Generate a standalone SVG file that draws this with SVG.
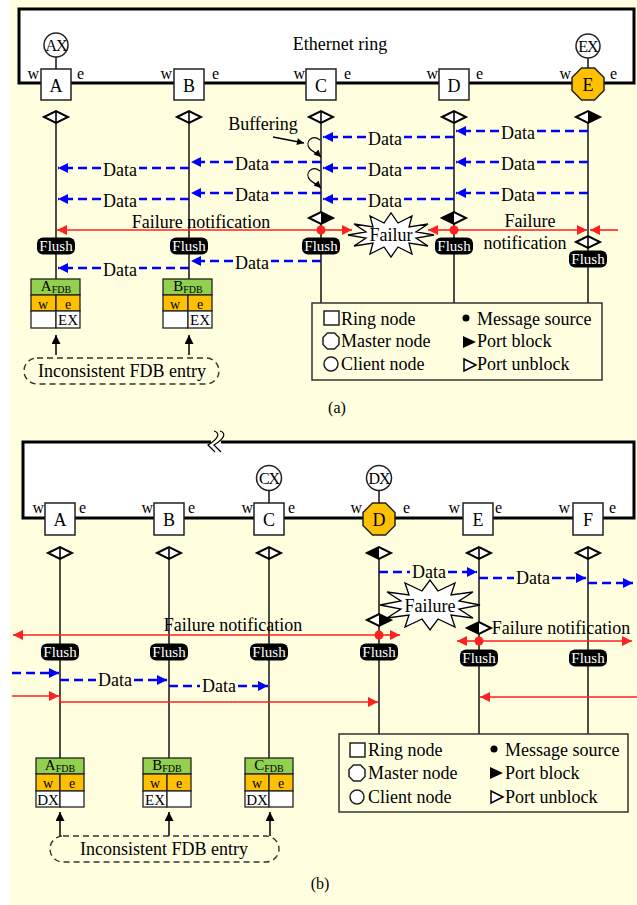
<svg xmlns="http://www.w3.org/2000/svg" width="637" height="905" viewBox="0 0 637 905">
<style>
text{font-family:"Liberation Serif","Times New Roman",serif;fill:#000}
.big{font-size:18px}
.we{font-size:16px}
.lbl{font-size:18px;text-anchor:middle}
.mid{text-anchor:middle}
.ring{fill:#fff;stroke:#000;stroke-width:3}
.sq{fill:#fff;stroke:#222;stroke-width:1.5}
.oct{fill:#FFC000;stroke:#222;stroke-width:1.5}
.cl{fill:#fff;stroke:#222;stroke-width:1.5}
.life{stroke:#222;stroke-width:1.6;fill:none}
.data{stroke:#0000FF;stroke-width:2.4;stroke-dasharray:9 5;fill:none;marker-end:url(#ab)}
.red{stroke:#FF2020;stroke-width:1.6;fill:none;marker-end:url(#ar)}
.redl{stroke:#FF2020;stroke-width:1.6;fill:none}
.dot{fill:#FF2020}
.flushbg{fill:#000}
.flush{font-family:"Liberation Serif","Times New Roman",serif;font-size:15px;fill:#fff;text-anchor:middle}
.star{fill:#fff;stroke:#000;stroke-width:1.3}
.hdr{fill:#92D050;stroke:#222;stroke-width:1.3}
.org{fill:#FFC000;stroke:#222;stroke-width:1.3}
.wht{fill:#fff;stroke:#222;stroke-width:1.3}
.cell{font-size:14px;text-anchor:middle}
.dash{fill:none;stroke:#333;stroke-width:1.4;stroke-dasharray:6 4}
.up{stroke:#000;stroke-width:1.5;marker-end:url(#ak)}
.leg{fill:#FFFFE0;stroke:#333;stroke-width:1.5}
</style>
<defs>
<marker id="ab" viewBox="0 0 10 10" refX="10" refY="5" markerWidth="12" markerHeight="10" markerUnits="userSpaceOnUse" orient="auto"><path d="M0,0 L10,5 L0,10 Z" fill="#0000FF"/></marker>
<marker id="ar" viewBox="0 0 10 10" refX="10" refY="5" markerWidth="13" markerHeight="10" markerUnits="userSpaceOnUse" orient="auto"><path d="M0,0 L10,5 L0,10 Z" fill="#FF2020"/></marker>
<marker id="ak" viewBox="0 0 10 10" refX="10" refY="5" markerWidth="12" markerHeight="9" markerUnits="userSpaceOnUse" orient="auto"><path d="M0,0 L10,5 L0,10 Z" fill="#000"/></marker>
<marker id="as" viewBox="0 0 10 10" refX="10" refY="5" markerWidth="8" markerHeight="7" markerUnits="userSpaceOnUse" orient="auto"><path d="M0,0 L10,5 L0,10 Z" fill="#000"/></marker>
<g id="dmo"><path d="M-12,0 L0,-6 L12,0 L0,6 Z" fill="#fff" stroke="#000" stroke-width="2"/><path d="M0,-6 V6" stroke="#000" stroke-width="1.6"/></g>
<g id="dmr"><path d="M-12,0 L0,-6 L12,0 L0,6 Z" fill="#fff" stroke="#000" stroke-width="2"/><path d="M0,-6 L12,0 L0,6 Z" fill="#000"/></g>
<g id="dml"><path d="M-12,0 L0,-6 L12,0 L0,6 Z" fill="#fff" stroke="#000" stroke-width="2"/><path d="M0,-6 L-12,0 L0,6 Z" fill="#000"/></g>
<g id="flush"><rect x="-19" y="-8.5" width="38" height="17" rx="6" class="flushbg"/><text x="0" y="5" class="flush">Flush</text></g>
<path id="octs" d="M-6.5,-16 L6.5,-16 L16,-6.5 L16,6.5 L6.5,16 L-6.5,16 L-16,6.5 L-16,-6.5 Z"/>
</defs>

<rect x="0" y="0" width="637" height="905" fill="#fff"/>
<rect x="10" y="0" width="627" height="905" fill="#FFFFE0"/>

<!-- ================= PANEL (a) ================= -->
<g id="a-ring">
<rect x="19" y="9" width="615" height="74" class="ring"/>
<text x="340" y="50" class="lbl">Ethernet ring</text>
</g>

<g id="a-connectors">
<path class="life" d="M56,111 V279 M189,111 V279 M321,111 V303 M454,111 V303 M588,111 V303"/>
<path class="life" d="M56,57 V69 M588,58 V68"/>
<path class="data" d="M588,131 H537 M499,131 H456"/>
<path class="data" d="M454,137 H404 M366,137 H323"/>
<path class="data" d="M588,162 H537 M499,162 H456"/>
<path class="data" d="M454,168 H404 M366,168 H323"/>
<path class="data" d="M321,162 H271 M233,162 H191"/>
<path class="data" d="M189,168 H139 M101,168 H58"/>
<path class="data" d="M588,193 H537 M499,193 H456"/>
<path class="data" d="M454,199 H404 M366,199 H323"/>
<path class="data" d="M321,193 H271 M233,193 H191"/>
<path class="data" d="M189,199 H139 M101,199 H58"/>
<path class="data" d="M321,261 H271 M233,261 H191"/>
<path class="data" d="M189,268 H139 M101,268 H58"/>
<path d="M320,140 C312,134 304,142 310,149 C313,152 317,153 321,157" fill="none" stroke="#000" stroke-width="1.2" marker-end="url(#as)"/>
<path d="M320,171 C312,165 304,173 310,180 C313,183 317,184 321,188" fill="none" stroke="#000" stroke-width="1.2" marker-end="url(#as)"/>
<path d="M273,137 L304,143" stroke="#000" stroke-width="1.3" marker-end="url(#as)"/>
<path class="red" d="M321,230 H57"/>
<path class="red" d="M321,230 H352"/>
<path class="red" d="M454,230 H428"/>
<path class="red" d="M454,230 H587"/>
<path class="red" d="M618,230 H590"/>
<path class="up" d="M56,355 V335"/>
<path class="up" d="M189,355 V335"/>
</g>

<g id="a-labels">
<text x="518" y="139" class="lbl">Data</text>
<text x="385" y="145" class="lbl">Data</text>
<text x="518" y="170" class="lbl">Data</text>
<text x="385" y="176" class="lbl">Data</text>
<text x="252" y="170" class="lbl">Data</text>
<text x="120" y="176" class="lbl">Data</text>
<text x="518" y="201" class="lbl">Data</text>
<text x="385" y="207" class="lbl">Data</text>
<text x="252" y="201" class="lbl">Data</text>
<text x="120" y="207" class="lbl">Data</text>
<text x="252" y="269" class="lbl">Data</text>
<text x="120" y="276" class="lbl">Data</text>
<text x="263" y="130" class="lbl">Buffering</text>
<text x="201" y="228" class="lbl">Failure notification</text>
<text x="530" y="227" class="lbl">Failure</text>
<text x="525" y="249" class="lbl">notification</text>
</g>

<g id="a-failure">
<polygon class="star" points="434,235 416,238 428,246 409,243 412,254 398,247 391,257 384,247 370,254 373,243 354,246 366,238 348,235 366,232 354,224 373,227 370,216 384,223 391,213 398,223 412,216 409,227 428,224 416,232"/>
<text x="391" y="241" class="lbl">Failur</text>
</g>

<g id="a-node-A">
<rect x="41" y="69" width="30" height="31" class="sq"/>
<text x="56" y="92" class="big mid">A</text>
<text x="39" y="79" class="we" text-anchor="end">w</text>
<text x="77" y="79" class="we">e</text>
<circle cx="56" cy="45" r="12" class="cl"/>
<text x="56" y="51" class="mid" font-size="16" letter-spacing="-1">AX</text>
<use href="#dmo" x="56" y="117"/>
<use href="#flush" x="56" y="246"/>
</g>
<g id="a-node-B">
<rect x="174" y="69" width="30" height="31" class="sq"/>
<text x="189" y="92" class="big mid">B</text>
<text x="172" y="79" class="we" text-anchor="end">w</text>
<text x="212" y="79" class="we">e</text>
<use href="#dmo" x="189" y="117"/>
<use href="#flush" x="189" y="246"/>
</g>
<g id="a-node-C">
<rect x="306" y="69" width="30" height="31" class="sq"/>
<text x="321" y="92" class="big mid">C</text>
<text x="305" y="79" class="we" text-anchor="end">w</text>
<text x="344" y="79" class="we">e</text>
<use href="#dmo" x="321" y="117"/>
<use href="#dmr" x="321" y="218"/>
<circle cx="321" cy="230" r="4.5" class="dot"/>
<use href="#flush" x="321" y="246"/>
</g>
<g id="a-node-D">
<rect x="439" y="69" width="30" height="31" class="sq"/>
<text x="454" y="92" class="big mid">D</text>
<text x="438" y="79" class="we" text-anchor="end">w</text>
<text x="476" y="79" class="we">e</text>
<use href="#dmo" x="454" y="117"/>
<use href="#dml" x="454" y="218"/>
<circle cx="454" cy="230" r="4.5" class="dot"/>
<use href="#flush" x="454" y="246"/>
</g>
<g id="a-node-E">
<use href="#octs" x="588" y="84" class="oct"/>
<text x="588" y="91" class="big mid">E</text>
<text x="571" y="79" class="we" text-anchor="end">w</text>
<text x="610" y="79" class="we">e</text>
<circle cx="588" cy="46" r="12" class="cl"/>
<text x="588" y="52" class="mid" font-size="16" letter-spacing="-1">EX</text>
<use href="#dmr" x="588" y="117"/>
<use href="#dmo" x="588" y="242"/>
<use href="#flush" x="588" y="259"/>
</g>

<g id="a-fdb-A">
<rect x="31" y="279" width="49" height="16" class="hdr"/>
<rect x="31" y="295" width="25" height="16" class="org"/>
<rect x="56" y="295" width="24" height="16" class="org"/>
<rect x="31" y="311" width="25" height="17" class="wht"/>
<rect x="56" y="311" width="24" height="17" class="wht"/>
<text x="56" y="291" class="mid" font-size="15">A<tspan font-size="10" dy="2">FDB</tspan></text>
<text x="43" y="308.5" class="cell">w</text>
<text x="68" y="308.5" class="cell">e</text>
<text x="68" y="325" class="mid" font-size="15">EX</text>
</g>
<g id="a-fdb-B">
<rect x="163" y="279" width="49" height="16" class="hdr"/>
<rect x="163" y="295" width="25" height="16" class="org"/>
<rect x="188" y="295" width="24" height="16" class="org"/>
<rect x="163" y="311" width="25" height="17" class="wht"/>
<rect x="188" y="311" width="24" height="17" class="wht"/>
<text x="188" y="291" class="mid" font-size="15">B<tspan font-size="10" dy="2">FDB</tspan></text>
<text x="175" y="308.5" class="cell">w</text>
<text x="200" y="308.5" class="cell">e</text>
<text x="200" y="325" class="mid" font-size="15">EX</text>
</g>
<g id="a-inconsistent">
<rect x="24" y="358" width="195" height="26" rx="13" class="dash"/>
<text x="122" y="377" class="lbl">Inconsistent FDB entry</text>
</g>

<g id="a-legend">
<rect x="312" y="303" width="290" height="77" class="leg"/>
<rect x="324" y="311" width="15" height="14" class="sq"/>
<path d="M-3.5,-8 L3.5,-8 L8,-3.5 L8,3.5 L3.5,8 L-3.5,8 L-8,3.5 L-8,-3.5 Z" transform="translate(331,341)" fill="#fff" stroke="#222" stroke-width="1.5"/>
<circle cx="331" cy="364" r="7" class="cl"/>
<text x="341" y="325" class="big">Ring node</text>
<text x="341" y="347" class="big">Master node</text>
<text x="341" y="370" class="big">Client node</text>
<circle cx="466" cy="318" r="3.5" fill="#000"/>
<path d="M463,336 L476,342 L463,348 Z" fill="#000"/>
<path d="M464,359 L476,365 L464,371 Z" fill="#fff" stroke="#000" stroke-width="1.5"/>
<text x="477" y="325" class="big">Message source</text>
<text x="477" y="347" class="big">Port block</text>
<text x="477" y="370" class="big">Port unblock</text>
</g>
<text x="337" y="413" class="mid" font-size="16">(a)</text>

<!-- ================= PANEL (b) ================= -->
<g id="b-ring">
<rect x="23" y="442" width="611" height="76" fill="#fff"/>
<path d="M211,442 H23 V518 H634 V442 H221" fill="none" stroke="#000" stroke-width="3"/>
<path d="M214,431 C221,433 218,439 208,445 L215,452" fill="none" stroke="#000" stroke-width="1.2"/>
<path d="M220,431 C227,433 224,439 214,445 L221,452" fill="none" stroke="#000" stroke-width="1.2"/>
</g>

<g id="b-connectors">
<path class="life" d="M60,547 V758 M169,547 V758 M269,547 V758 M379,547 V734 M479,547 V734 M588,547 V734"/>
<path class="life" d="M269,490 V503 M379,490 V503"/>
<path class="data" d="M379,572 H410 M448,572 H477"/>
<path class="data" d="M479,578 H514 M552,578 H586"/>
<path class="data" d="M588,583 H633"/>
<path class="data" d="M12,673 H59"/>
<path class="data" d="M60,680 H96 M134,680 H167"/>
<path class="data" d="M169,686 H200 M238,686 H268"/>
<path class="red" d="M379,635 H13"/>
<path class="red" d="M379,635 H400"/>
<path class="red" d="M479,641 H457"/>
<path class="red" d="M479,641 H632"/>
<path class="red" d="M12,696 H59"/>
<path class="red" d="M60,702 H378"/>
<path class="redl" d="M60,696 V702"/>
<path class="red" d="M637,697 H480"/>
<path class="up" d="M60,836 V812"/>
<path class="up" d="M169,836 V812"/>
<path class="up" d="M270,836 V812"/>
</g>

<g id="b-labels">
<text x="429" y="578" class="lbl">Data</text>
<text x="533" y="584" class="lbl">Data</text>
<text x="115" y="686" class="lbl">Data</text>
<text x="219" y="692" class="lbl">Data</text>
<text x="233" y="631" class="lbl">Failure notification</text>
<text x="561" y="634" class="lbl">Failure notification</text>
</g>

<g id="b-failure">
<polygon class="star" points="480,605 459,609 473,618 451,615 455,627 438,619 430,630 422,619 405,627 409,615 387,618 401,609 380,605 401,601 387,592 409,595 405,583 422,591 430,580 438,591 455,583 451,595 473,592 459,601"/>
<text x="430" y="612" class="lbl">Failure</text>
</g>

<g id="b-node-A">
<rect x="45" y="503" width="30" height="32" class="sq"/>
<text x="60" y="526" class="big mid">A</text>
<text x="44" y="513" class="we" text-anchor="end">w</text>
<text x="79" y="513" class="we">e</text>
<use href="#dmo" x="60" y="553"/>
<use href="#flush" x="60" y="652"/>
</g>
<g id="b-node-B">
<rect x="154" y="503" width="30" height="32" class="sq"/>
<text x="169" y="526" class="big mid">B</text>
<text x="153" y="513" class="we" text-anchor="end">w</text>
<text x="188" y="513" class="we">e</text>
<use href="#dmo" x="169" y="553"/>
<use href="#flush" x="169" y="652"/>
</g>
<g id="b-node-C">
<rect x="254" y="503" width="30" height="32" class="sq"/>
<text x="269" y="526" class="big mid">C</text>
<text x="253" y="513" class="we" text-anchor="end">w</text>
<text x="288" y="513" class="we">e</text>
<circle cx="269" cy="478" r="12.5" class="cl"/>
<text x="269" y="484" class="mid" font-size="16" letter-spacing="-1">CX</text>
<use href="#dmo" x="269" y="553"/>
<use href="#flush" x="269" y="652"/>
</g>
<g id="b-node-D">
<use href="#octs" x="379" y="519" class="oct"/>
<text x="379" y="526" class="big mid">D</text>
<text x="362" y="513" class="we" text-anchor="end">w</text>
<text x="403" y="513" class="we">e</text>
<circle cx="379" cy="478" r="12.5" class="cl"/>
<text x="379" y="484" class="mid" font-size="16" letter-spacing="-1">DX</text>
<use href="#dml" x="379" y="553"/>
<use href="#dmr" x="379" y="620"/>
<circle cx="379" cy="635" r="4.5" class="dot"/>
<use href="#flush" x="379" y="652"/>
</g>
<g id="b-node-E">
<rect x="463" y="503" width="30" height="32" class="sq"/>
<text x="478" y="526" class="big mid">E</text>
<text x="460" y="513" class="we" text-anchor="end">w</text>
<text x="495" y="513" class="we">e</text>
<use href="#dmo" x="479" y="553"/>
<use href="#dml" x="479" y="628"/>
<circle cx="479" cy="641" r="4.5" class="dot"/>
<use href="#flush" x="479" y="658"/>
</g>
<g id="b-node-F">
<rect x="573" y="503" width="30" height="32" class="sq"/>
<text x="588" y="526" class="big mid">F</text>
<text x="570" y="513" class="we" text-anchor="end">w</text>
<text x="609" y="513" class="we">e</text>
<use href="#dmo" x="588" y="553"/>
<use href="#flush" x="588" y="658"/>
</g>

<g id="b-fdb-A">
<rect x="36" y="758" width="48" height="16" class="hdr"/>
<rect x="36" y="774" width="24" height="17" class="org"/>
<rect x="60" y="774" width="24" height="17" class="org"/>
<rect x="36" y="791" width="24" height="16" class="wht"/>
<rect x="60" y="791" width="24" height="16" class="wht"/>
<text x="60" y="770" class="mid" font-size="15">A<tspan font-size="10" dy="2">FDB</tspan></text>
<text x="48" y="788" class="cell">w</text>
<text x="72" y="788" class="cell">e</text>
<text x="48" y="805" class="mid" font-size="15">DX</text>
</g>
<g id="b-fdb-B">
<rect x="143" y="758" width="48" height="16" class="hdr"/>
<rect x="143" y="774" width="24" height="17" class="org"/>
<rect x="167" y="774" width="24" height="17" class="org"/>
<rect x="143" y="791" width="24" height="16" class="wht"/>
<rect x="167" y="791" width="24" height="16" class="wht"/>
<text x="167" y="770" class="mid" font-size="15">B<tspan font-size="10" dy="2">FDB</tspan></text>
<text x="155" y="788" class="cell">w</text>
<text x="179" y="788" class="cell">e</text>
<text x="155" y="805" class="mid" font-size="15">EX</text>
</g>
<g id="b-fdb-C">
<rect x="245" y="758" width="48" height="16" class="hdr"/>
<rect x="245" y="774" width="24" height="17" class="org"/>
<rect x="269" y="774" width="24" height="17" class="org"/>
<rect x="245" y="791" width="24" height="16" class="wht"/>
<rect x="269" y="791" width="24" height="16" class="wht"/>
<text x="269" y="770" class="mid" font-size="15">C<tspan font-size="10" dy="2">FDB</tspan></text>
<text x="257" y="788" class="cell">w</text>
<text x="281" y="788" class="cell">e</text>
<text x="257" y="805" class="mid" font-size="15">DX</text>
</g>
<g id="b-inconsistent">
<rect x="50" y="836" width="229" height="26" rx="13" class="dash"/>
<text x="164" y="855" class="lbl">Inconsistent FDB entry</text>
</g>

<g id="b-legend">
<rect x="339" y="734" width="289" height="78" class="leg"/>
<rect x="350" y="743" width="15" height="14" class="sq"/>
<path d="M-3.5,-8 L3.5,-8 L8,-3.5 L8,3.5 L3.5,8 L-3.5,8 L-8,3.5 L-8,-3.5 Z" transform="translate(357,773)" fill="#fff" stroke="#222" stroke-width="1.5"/>
<circle cx="357" cy="797" r="7" class="cl"/>
<text x="368" y="756" class="big">Ring node</text>
<text x="368" y="779" class="big">Master node</text>
<text x="368" y="803" class="big">Client node</text>
<circle cx="494" cy="749" r="3.5" fill="#000"/>
<path d="M490,767 L503,773 L490,779 Z" fill="#000"/>
<path d="M491,791 L503,797 L491,803 Z" fill="#fff" stroke="#000" stroke-width="1.5"/>
<text x="505" y="756" class="big">Message source</text>
<text x="505" y="779" class="big">Port block</text>
<text x="505" y="803" class="big">Port unblock</text>
</g>
<text x="320" y="889" class="mid" font-size="16">(b)</text>
</svg>
